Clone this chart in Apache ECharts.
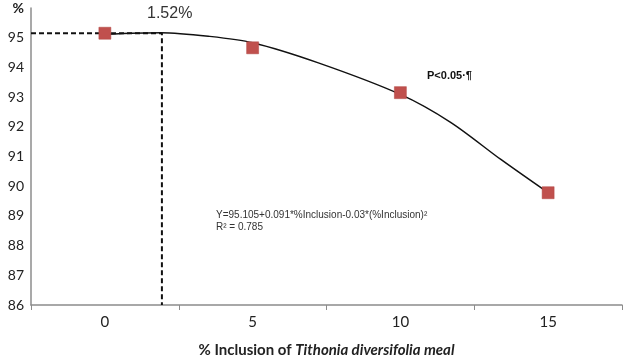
<!DOCTYPE html>
<html><head><meta charset="utf-8">
<script src="https://cdn.jsdelivr.net/npm/echarts@6/dist/echarts.min.js"></script>
<style>html,body{margin:0;padding:0;background:#fff}#c{width:627px;height:355px}</style>
</head><body><div id="c"></div>
<script>
var categories = ['0', '5', '10', '15'];
var inclusion = [0, 5, 10, 15];
var observed = [95.15, 94.66, 93.15, 89.78];
var trendX = [0, 1.9, 3.5, 5, 7.2, 10, 11.7, 13.4, 15];
var trendY = [95.12, 95.17, 95.05, 94.83, 94.16, 93.09, 92.15, 90.9, 89.78];
var optimumX = 1.93;
var optimumY = 95.15;
var yTicks = [86, 87, 88, 89, 90, 91, 92, 93, 94, 95, 96];

var chart = echarts.init(document.getElementById('c'));
var pts = inclusion.map(function (x, i) { return [x, observed[i]]; });
var trend = trendX.map(function (x, i) { return [x, trendY[i]]; });
var guide = [[-2.5, optimumY], [optimumX, optimumY], [optimumX, yTicks[0]]];

chart.setOption({
  animation: false,
  grid: { left: 31, right: 5, top: 8, bottom: 50, containLabel: false, outerBoundsMode: 'none' },
  xAxis: [{
    type: 'category', data: categories, boundaryGap: true,
    axisLine: { lineStyle: { color: '#8c8c8c', width: 1.5 } },
    axisTick: { show: true, length: 5, lineStyle: { color: '#8c8c8c' } },
    axisLabel: { fontFamily: 'Lato', fontSize: 15, color: '#222', margin: 10 },
    name: '{a|% Inclusion of }{b|Tithonia diversifolia meal}',
    nameLocation: 'middle', nameGap: 38,
    nameTextStyle: { rich: {
      a: { fontFamily: 'Lato', fontWeight: 'bold', fontSize: 15, color: '#222' },
      b: { fontFamily: 'Lato', fontWeight: 'bold', fontStyle: 'italic', fontSize: 15, color: '#222' }
    } }
  }, {
    type: 'value', min: -2.5, max: 17.5, show: false
  }],
  yAxis: {
    type: 'value', min: 86, max: 96, interval: 1,
    axisLine: { show: true, onZero: false, lineStyle: { color: '#8c8c8c', width: 1.5 } },
    axisTick: { show: false },
    splitLine: { show: false },
    axisLabel: {
      fontFamily: 'Lato', fontSize: 14, color: '#222', margin: 7,
      formatter: function (v) { return v === 96 ? '{p|%}' : String(v); },
      rich: { p: { fontFamily: 'Lato', fontWeight: 'bold', fontSize: 14, color: '#222' } }
    }
  },
  series: [{
    type: 'line', xAxisIndex: 1, data: guide, symbol: 'none',
    lineStyle: { color: '#111', width: 2, type: [5, 3] }, z: 2
  }, {
    type: 'line', xAxisIndex: 1, data: trend, smooth: 0.3, symbol: 'none',
    lineStyle: { color: '#111', width: 1.5 }, z: 3
  }, {
    type: 'scatter', xAxisIndex: 1, data: pts, symbol: 'rect', symbolSize: 12,
    itemStyle: { color: '#c0504d', opacity: 1, borderColor: '#b04440', borderWidth: 0.5 }, z: 4
  }],
  graphic: [
    { type: 'text', left: 147, top: 6, style: { text: '1.52%', font: '16px "Liberation Sans"', fill: '#333' } },
    { type: 'text', left: 427, top: 70, style: { text: 'P<0.05·¶', font: 'bold 11px "Liberation Sans"', fill: '#111' } },
    { type: 'text', left: 216, top: 209, style: { text: 'Y=95.105+0.091*%Inclusion-0.03*(%Inclusion)²\nR² = 0.785', font: '10px "Liberation Sans"', fill: '#333', lineHeight: 12 } }
  ]
});
</script></body></html>
